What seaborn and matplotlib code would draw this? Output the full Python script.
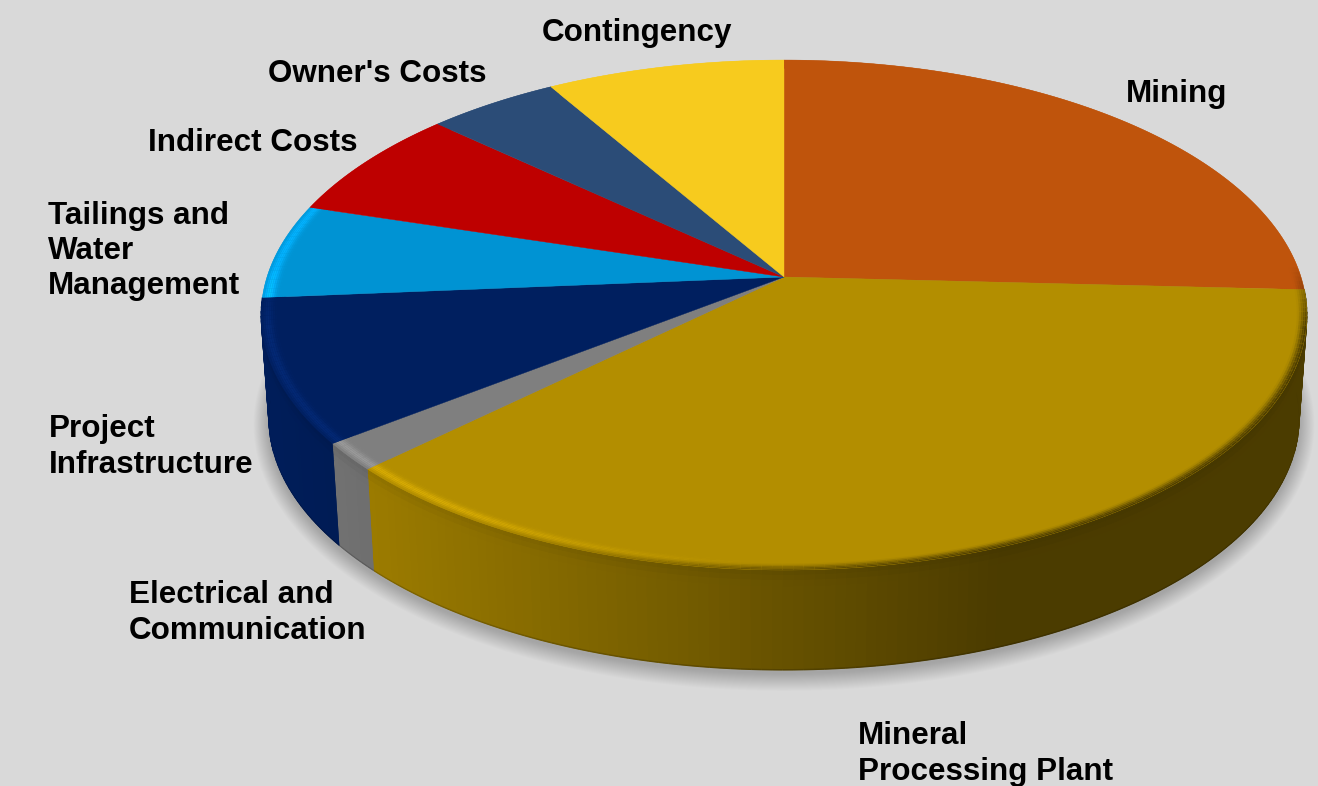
import numpy as np
import matplotlib
matplotlib.use("Agg")
import matplotlib.pyplot as plt
from matplotlib.collections import PolyCollection
import seaborn as sns

# Share of capital cost per area, percent, clockwise from twelve o'clock
categories = ["Mining", "Mineral\nProcessing Plant", "Electrical and\nCommunication",
              "Project\nInfrastructure", "Tailings and\nWater\nManagement",
              "Indirect Costs", "Owner's Costs", "Contingency"]
shares = [25.8, 37.05, 1.75, 9.1, 6.0, 7.1, 4.7, 8.5]
hex_colors = ["#BF540C", "#B38E00", "#7F7F7F", "#001F5F",
              "#0093D3", "#BE0000", "#2B4C77", "#F7CB1E"]
label_x = [1126, 858, 129, 49, 48, 148, 268, 542]
label_y = [94, 754, 613, 447, 251, 143, 74, 33]
front_slices = [1, 2, 3]

W, H = 1318, 786
APEX_X, APEX_Y = 784.0, 277.0
SCALE_X, SCALE_Y, TILT = 517.0, 249.3, 0.149
FLOOR_SCALE, FLOOR_DROP = 0.985, 105.0
BACKGROUND = "#D9D9D9"

sns.set_theme(style="white", rc={"figure.facecolor": BACKGROUND, "axes.facecolor": BACKGROUND})
plt.rcParams["font.family"] = ["Liberation Sans", "DejaVu Sans"]
palette = np.array(sns.color_palette(hex_colors))


def project(theta, radius=1.0, depth=0.0):
    """Perspective view of a point on the disc; depth 0 is the top face, 1 the floor."""
    u, v = radius * np.sin(theta), radius * np.cos(theta)
    factor = 1.0 + depth * (FLOOR_SCALE - 1.0)
    x = APEX_X + factor * SCALE_X * u / (1 + TILT * v)
    y = APEX_Y + depth * FLOOR_DROP - factor * SCALE_Y * v / (1 + TILT * v)
    return x, y


def side_shade(x):
    """Brightness of the outer wall, falling from left to right."""
    return np.clip(0.86 - (x - 380) * 0.44 / 620, 0.42, 0.94)


def smooth(a, b, t):
    s = np.clip((t - a) / (b - a), 0, 1)
    return s * s * (3 - 2 * s)


def quad(a0, a1, r0, r1, d0, d1):
    corners = [project(a0, r0, d0), project(a1, r0, d0), project(a1, r1, d1), project(a0, r1, d1)]
    return [(float(px), float(py)) for px, py in corners]


edges = np.radians(np.cumsum([0.0] + shares) * 3.6)
SPAN = np.pi / 180

fig = plt.figure(figsize=(W / 100, H / 100), dpi=100, facecolor=BACKGROUND)
ax = fig.add_axes([0, 0, 1, 1])
ax.set_xlim(0, W)
ax.set_ylim(H, 0)
ax.axis("off")

# Soft shadow under the disc
full = np.linspace(0, 2 * np.pi, 361)
fx, fy = project(full, 1.0, 1.0)
for grow in np.linspace(1.06, 1.0, 18):
    sx = APEX_X + (fx - APEX_X) * (1 + (grow - 1) * 0.5)
    sy = APEX_Y + FLOOR_DROP + (fy - APEX_Y - FLOOR_DROP) * grow + 3
    ax.fill(sx, sy, color="#000000", alpha=0.011, lw=0, zorder=1)

wall_polys, wall_cols = [], []
under_polys, under_cols = [], []
rim_polys, rim_cols = [], []
wall_levels = [0.0, 0.05, 0.10, 0.16, 0.985, 1.0]
rim_levels = np.linspace(0.955, 1.0, 13)

for i, base in enumerate(palette):
    start, stop = edges[i], edges[i + 1]
    count = max(int((stop - start) / SPAN), 2)
    angles = np.linspace(start, stop, count + 1)
    for a0, a1 in zip(angles[:-1], angles[1:]):
        mid = 0.5 * (a0 + a1)
        mx, _ = project(mid)
        shade = side_shade(mx)
        wall = base * shade
        # Outer wall, only the slices along the front have one in view
        if i in front_slices:
            under_polys.append(quad(a0, a1, 1.0, 1.0, 0.0, 0.99))
            under_cols.append(wall)
            for t0, t1 in zip(wall_levels[:-1], wall_levels[1:]):
                tm = 0.5 * (t0 + t1)
                col = wall * (0.93 + 0.07 * smooth(0.0, 0.16, tm))
                if tm > 0.985:
                    col = wall * 0.82
                wall_polys.append(quad(a0, a1, 1.0, 1.0, t0, t1))
                wall_cols.append(col)
        # Bevel band running along the edge of the top face
        front = np.clip((0.05 - np.cos(mid)) / 0.25, 0, 1)
        left_side = np.clip((-np.sin(mid) - 0.85) / 0.1, 0, 1) * (i == 4)
        glow = np.clip((760 - mx) / 300, 0, 1) * front + left_side
        for r0, r1 in zip(rim_levels[:-1], rim_levels[1:]):
            q = (0.5 * (r0 + r1) - 0.955) / 0.045
            mix = smooth(0.55, 1.0, q) * front * (1 - 0.6 * glow)
            col = base * (1 - mix) + wall * mix
            col = col + glow * np.exp(-((q - 0.72) / 0.22) ** 2) * (0.2 * base + 0.012)
            rim_polys.append(quad(a0, a1, r0, r1, 0.0, 0.0))
            rim_cols.append(np.clip(col, 0, 1))

# A slightly overlapping underlay keeps the wall free of seams between its strips
under_cols = np.array(under_cols)
ax.add_collection(PolyCollection(under_polys, facecolors=under_cols, edgecolors=under_cols,
                                 linewidths=0.8, zorder=2))
ax.add_collection(PolyCollection(wall_polys, facecolors=np.array(wall_cols),
                                 edgecolors="none", linewidths=0, zorder=2.5))

# Flat slices of the top face
for i, base in enumerate(palette):
    arc = np.linspace(edges[i], edges[i + 1], 180)
    x, y = project(arc, 1.0)
    ax.fill(np.r_[APEX_X, x], np.r_[APEX_Y, y], color=base, lw=0.3, zorder=3)

ax.add_collection(PolyCollection(rim_polys, facecolors=np.array(rim_cols),
                                 edgecolors="none", linewidths=0, zorder=4))

for name, tx, ty in zip(categories, label_x, label_y):
    ax.text(tx, ty, name, ha="left", va="center", ma="left", fontsize=22.6,
            fontweight="bold", color="black", linespacing=1.23, zorder=6)

fig.savefig("out.png", dpi=100, facecolor=BACKGROUND)
